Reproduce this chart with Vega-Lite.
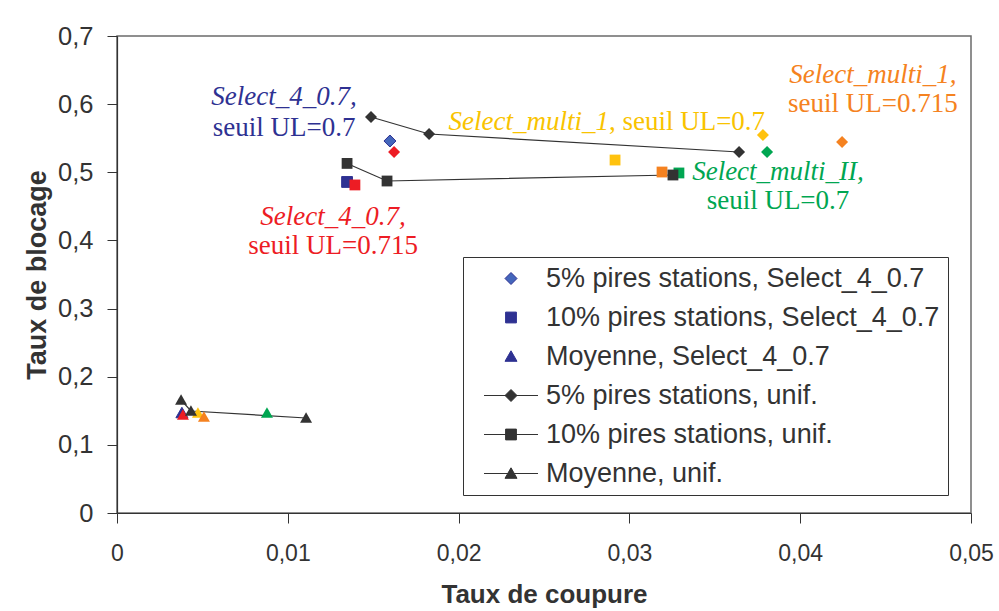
{
  "$schema": "https://vega.github.io/schema/vega-lite/v6.json",
  "width": 854,
  "height": 477,
  "autosize": {"type": "none"},
  "padding": {"left": 117, "top": 36, "right": 28, "bottom": 98},
  "background": "white",
  "config": {
    "view": {"stroke": "#6b6b6b", "strokeWidth": 1.5},
    "font": "Liberation Sans",
    "axis": {
      "grid": false,
      "domainColor": "#333333",
      "domainWidth": 1.2,
      "tickColor": "#333333",
      "tickSize": 10,
      "labelColor": "#333333",
      "titleColor": "#333333",
      "titleFontWeight": "bold",
      "labelFlush": false
    },
    "legend": {
      "orient": "none",
      "legendX": 346,
      "legendY": 221,
      "strokeColor": "#333333",
      "fillColor": "white",
      "padding": 8,
      "labelFont": "Liberation Sans",
      "labelFontSize": 27,
      "labelColor": "#333333",
      "labelLimit": 0,
      "rowPadding": 11,
      "symbolOffset": 26.5,
      "labelOffset": 21.5,
      "symbolSize": 144,
      "symbolStrokeWidth": 1
    }
  },
  "datasets": {
    "points": [
      {"variant": "Select_4_0.7, seuil UL=0.7", "series": "5% pires stations, Select_4_0.7", "metric": "5% pires stations", "x": 0.01598, "y": 0.5459},
      {"variant": "Select_4_0.7, seuil UL=0.7", "series": "10% pires stations, Select_4_0.7", "metric": "10% pires stations", "x": 0.01347, "y": 0.4858},
      {"variant": "Select_4_0.7, seuil UL=0.7", "series": "Moyenne, Select_4_0.7", "metric": "Moyenne", "x": 0.0038, "y": 0.1468},
      {"variant": "Select_4_0.7, seuil UL=0.715", "series": "5% pires stations, Select_4_0.7 (UL=0.715)", "metric": "5% pires stations", "x": 0.01622, "y": 0.5298},
      {"variant": "Select_4_0.7, seuil UL=0.715", "series": "10% pires stations, Select_4_0.7 (UL=0.715)", "metric": "10% pires stations", "x": 0.01393, "y": 0.4814},
      {"variant": "Select_4_0.7, seuil UL=0.715", "series": "Moyenne, Select_4_0.7 (UL=0.715)", "metric": "Moyenne", "x": 0.00386, "y": 0.1438},
      {"variant": "Select_multi_1, seuil UL=0.7", "series": "5% pires stations, Select_multi_1", "metric": "5% pires stations", "x": 0.03782, "y": 0.5547},
      {"variant": "Select_multi_1, seuil UL=0.7", "series": "10% pires stations, Select_multi_1", "metric": "10% pires stations", "x": 0.02916, "y": 0.518},
      {"variant": "Select_multi_1, seuil UL=0.7", "series": "Moyenne, Select_multi_1", "metric": "Moyenne", "x": 0.00474, "y": 0.1468},
      {"variant": "Select_multi_II, seuil UL=0.7", "series": "5% pires stations, Select_multi_II", "metric": "5% pires stations", "x": 0.03806, "y": 0.5298},
      {"variant": "Select_multi_II, seuil UL=0.7", "series": "10% pires stations, Select_multi_II", "metric": "10% pires stations", "x": 0.0329, "y": 0.499},
      {"variant": "Select_multi_II, seuil UL=0.7", "series": "Moyenne, Select_multi_II", "metric": "Moyenne", "x": 0.00878, "y": 0.1468},
      {"variant": "Select_multi_1, seuil UL=0.715", "series": "5% pires stations, Select_multi_1 (UL=0.715)", "metric": "5% pires stations", "x": 0.04245, "y": 0.5445},
      {"variant": "Select_multi_1, seuil UL=0.715", "series": "10% pires stations, Select_multi_1 (UL=0.715)", "metric": "10% pires stations", "x": 0.03191, "y": 0.5004},
      {"variant": "Select_multi_1, seuil UL=0.715", "series": "Moyenne, Select_multi_1 (UL=0.715)", "metric": "Moyenne", "x": 0.00509, "y": 0.1409},
      {"variant": "unif", "series": "5% pires stations, unif.", "metric": "5% pires stations", "x": 0.01487, "y": 0.5812},
      {"variant": "unif", "series": "5% pires stations, unif.", "metric": "5% pires stations", "x": 0.01827, "y": 0.5562},
      {"variant": "unif", "series": "5% pires stations, unif.", "metric": "5% pires stations", "x": 0.03642, "y": 0.5298},
      {"variant": "unif", "series": "10% pires stations, unif.", "metric": "10% pires stations", "x": 0.01347, "y": 0.513},
      {"variant": "unif", "series": "10% pires stations, unif.", "metric": "10% pires stations", "x": 0.01581, "y": 0.4872},
      {"variant": "unif", "series": "10% pires stations, unif.", "metric": "10% pires stations", "x": 0.03255, "y": 0.496},
      {"variant": "unif", "series": "Moyenne, unif.", "metric": "Moyenne", "x": 0.00375, "y": 0.1658},
      {"variant": "unif", "series": "Moyenne, unif.", "metric": "Moyenne", "x": 0.00433, "y": 0.1497},
      {"variant": "unif", "series": "Moyenne, unif.", "metric": "Moyenne", "x": 0.01107, "y": 0.1394}
    ],
    "labels": [
      {"variant": "Select_4_0.7, seuil UL=0.7", "kind": "name", "text": "Select_4_0.7,", "x": 0.00978, "y": 0.6105},
      {"variant": "Select_4_0.7, seuil UL=0.7", "kind": "threshold", "text": "seuil UL=0.7", "x": 0.00978, "y": 0.5655},
      {"variant": "Select_4_0.7, seuil UL=0.715", "kind": "name", "text": "Select_4_0.7,", "x": 0.01265, "y": 0.4344},
      {"variant": "Select_4_0.7, seuil UL=0.715", "kind": "threshold", "text": "seuil UL=0.715", "x": 0.01265, "y": 0.3918},
      {"variant": "Select_multi_1, seuil UL=0.715", "kind": "name", "text": "Select_multi_1,", "x": 0.04426, "y": 0.6428},
      {"variant": "Select_multi_1, seuil UL=0.715", "kind": "threshold", "text": "seuil UL=0.715", "x": 0.04426, "y": 0.6002},
      {"variant": "Select_multi_II, seuil UL=0.7", "kind": "name", "text": "Select_multi_II,", "x": 0.0387, "y": 0.5004},
      {"variant": "Select_multi_II, seuil UL=0.7", "kind": "threshold", "text": "seuil UL=0.7", "x": 0.0387, "y": 0.4579},
      {"variant": "Select_multi_1, seuil UL=0.7", "kind": "inline-name", "text": "Select_multi_1", "x": 0.0288, "y": 0.5738},
      {"variant": "Select_multi_1, seuil UL=0.7", "kind": "inline-threshold", "text": ", seuil UL=0.7", "x": 0.0288, "y": 0.5738}
    ]
  },
  "encoding": {
    "x": {
      "field": "x",
      "type": "quantitative",
      "scale": {"domain": [0, 0.05], "nice": false, "zero": false},
      "axis": {
        "values": [0, 0.01, 0.02, 0.03, 0.04, 0.05],
        "labelExpr": "replace(format(datum.value, '.2~f'), '.', ',')",
        "title": "Taux de coupure",
        "labelFontSize": 23,
        "titleFontSize": 26,
        "labelPadding": 19,
        "titlePadding": 16
      }
    },
    "y": {
      "field": "y",
      "type": "quantitative",
      "scale": {"domain": [0, 0.7], "nice": false, "zero": false},
      "axis": {
        "values": [0, 0.1, 0.2, 0.3, 0.4, 0.5, 0.6, 0.7],
        "labelExpr": "replace(format(datum.value, '.2~f'), '.', ',')",
        "title": "Taux de blocage",
        "labelFontSize": 25.5,
        "titleFontSize": 27,
        "labelPadding": 14,
        "titlePadding": 6
      }
    }
  },
  "layer": [
    {
      "data": {"name": "points"},
      "transform": [{"filter": "datum.variant === 'unif'"}],
      "mark": {"type": "line", "color": "#333333", "strokeWidth": 1.2},
      "encoding": {"detail": {"field": "metric", "type": "nominal"}}
    },
    {
      "data": {"name": "points"},
      "transform": [{"filter": "datum.variant === 'Select_4_0.7, seuil UL=0.7'"}],
      "mark": {"type": "point", "filled": true, "size": 144, "opacity": 1, "strokeWidth": 1},
      "encoding": {
        "color": {
          "field": "series", "type": "nominal", "title": null,
          "scale": {
            "domain": ["5% pires stations, Select_4_0.7", "10% pires stations, Select_4_0.7", "Moyenne, Select_4_0.7", "5% pires stations, unif.", "10% pires stations, unif.", "Moyenne, unif."],
            "range": ["#4466bb", "#2e3192", "#2e3192", "#333333", "#333333", "#333333"]
          }
        },
        "stroke": {
          "field": "series", "type": "nominal", "title": null,
          "scale": {
            "domain": ["5% pires stations, Select_4_0.7", "10% pires stations, Select_4_0.7", "Moyenne, Select_4_0.7", "5% pires stations, unif.", "10% pires stations, unif.", "Moyenne, unif."],
            "range": ["#2e3192", "#2e3192", "#2e3192", "#333333", "#333333", "#333333"]
          }
        },
        "shape": {
          "field": "series", "type": "nominal", "title": null,
          "scale": {
            "domain": ["5% pires stations, Select_4_0.7", "10% pires stations, Select_4_0.7", "Moyenne, Select_4_0.7", "5% pires stations, unif.", "10% pires stations, unif.", "Moyenne, unif."],
            "range": [
              "M0,-1L1,0L0,1L-1,0Z",
              "M-0.9,-0.9H0.9V0.9H-0.9Z",
              "M0,-0.95L1,0.8H-1Z",
              "M-4.5,0H4.5M0,-1L1,0L0,1L-1,0Z",
              "M-4.5,0H4.5M-0.9,-0.9H0.9V0.9H-0.9Z",
              "M-4.5,0H4.5M0,-0.95L1,0.8H-1Z"
            ]
          }
        }
      }
    },
    {
      "data": {"name": "points"},
      "transform": [{"filter": "datum.variant !== 'Select_4_0.7, seuil UL=0.7'"}],
      "mark": {"type": "point", "filled": true, "size": 144, "opacity": 1},
      "encoding": {
        "color": {
          "field": "variant", "type": "nominal", "legend": null,
          "scale": {
            "domain": ["Select_4_0.7, seuil UL=0.7", "Select_4_0.7, seuil UL=0.715", "Select_multi_1, seuil UL=0.7", "Select_multi_II, seuil UL=0.7", "Select_multi_1, seuil UL=0.715", "unif"],
            "range": ["#2e3192", "#ed1c24", "#ffc20e", "#00a651", "#f58220", "#333333"]
          }
        },
        "shape": {
          "field": "metric", "type": "nominal", "legend": null,
          "scale": {
            "domain": ["5% pires stations", "10% pires stations", "Moyenne"],
            "range": ["M0,-1L1,0L0,1L-1,0Z", "M-0.9,-0.9H0.9V0.9H-0.9Z", "M0,-0.95L1,0.8H-1Z"]
          }
        }
      }
    },
    {
      "data": {"name": "labels"},
      "transform": [{"filter": "datum.kind === 'name'"}],
      "mark": {"type": "text", "font": "Liberation Serif", "fontSize": 27, "fontStyle": "italic", "align": "center", "baseline": "middle"},
      "encoding": {
        "text": {"field": "text", "type": "nominal"},
        "color": {
          "field": "variant", "type": "nominal", "legend": null,
          "scale": {
            "domain": ["Select_4_0.7, seuil UL=0.7", "Select_4_0.7, seuil UL=0.715", "Select_multi_1, seuil UL=0.7", "Select_multi_II, seuil UL=0.7", "Select_multi_1, seuil UL=0.715", "unif"],
            "range": ["#2e3192", "#ed1c24", "#f9c300", "#00a651", "#f58220", "#333333"]
          }
        }
      }
    },
    {
      "data": {"name": "labels"},
      "transform": [{"filter": "datum.kind === 'threshold'"}],
      "mark": {"type": "text", "font": "Liberation Serif", "fontSize": 27, "align": "center", "baseline": "middle"},
      "encoding": {
        "text": {"field": "text", "type": "nominal"},
        "color": {
          "field": "variant", "type": "nominal", "legend": null,
          "scale": {
            "domain": ["Select_4_0.7, seuil UL=0.7", "Select_4_0.7, seuil UL=0.715", "Select_multi_1, seuil UL=0.7", "Select_multi_II, seuil UL=0.7", "Select_multi_1, seuil UL=0.715", "unif"],
            "range": ["#2e3192", "#ed1c24", "#f9c300", "#00a651", "#f58220", "#333333"]
          }
        }
      }
    },
    {
      "data": {"name": "labels"},
      "transform": [{"filter": "datum.kind === 'inline-name'"}],
      "mark": {"type": "text", "font": "Liberation Serif", "fontSize": 27, "fontStyle": "italic", "align": "right", "baseline": "middle", "color": "#f9c300"},
      "encoding": {"text": {"field": "text", "type": "nominal"}}
    },
    {
      "data": {"name": "labels"},
      "transform": [{"filter": "datum.kind === 'inline-threshold'"}],
      "mark": {"type": "text", "font": "Liberation Serif", "fontSize": 27, "align": "left", "baseline": "middle", "color": "#f9c300"},
      "encoding": {"text": {"field": "text", "type": "nominal"}}
    }
  ],
  "resolve": {"scale": {"color": "independent", "shape": "independent", "stroke": "independent"}}
}
